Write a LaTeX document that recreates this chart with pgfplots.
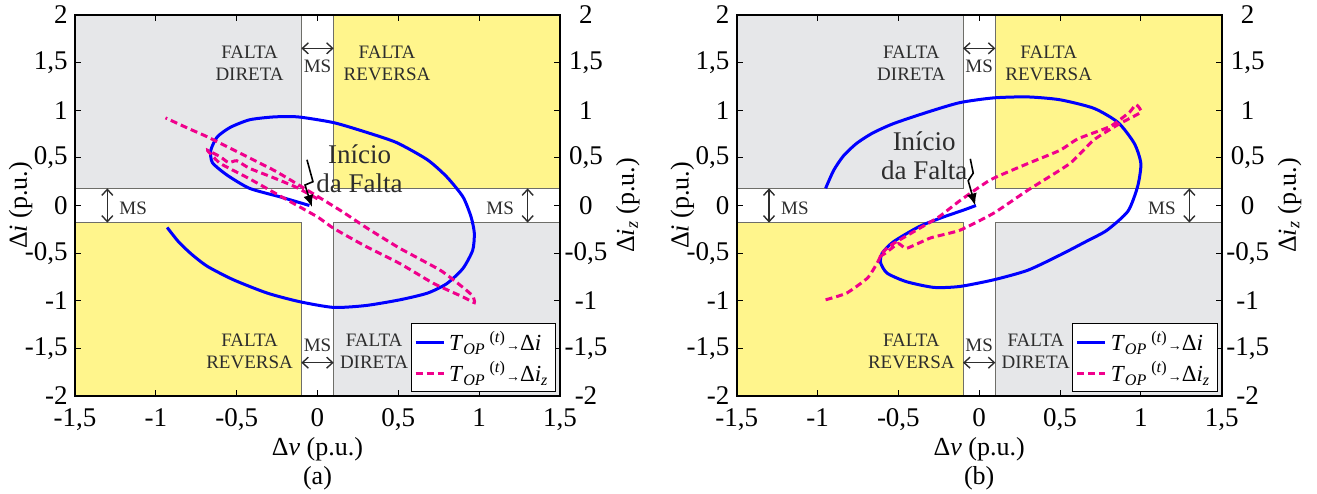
\documentclass[border=0pt]{standalone}
\usepackage{fontspec}
\setmainfont{Liberation Serif}
\usepackage{pgfplots}
\pgfplotsset{compat=1.18}
\usetikzlibrary{arrows.meta}

\definecolor{regGray}{RGB}{230,231,233}
\definecolor{regYel}{RGB}{255,245,140}
\definecolor{edgeGray}{RGB}{110,110,105}
\definecolor{curBlue}{RGB}{0,0,255}
\definecolor{curPink}{RGB}{240,0,140}
\definecolor{txtGray}{RGB}{45,45,45}

\tikzset{
  lbl/.style={font=\fontsize{9.5}{11}\selectfont, text=txtGray, align=center, inner sep=0pt},
  msarrow/.style={{Straight Barb[length=3pt,width=5.5pt]}-{Straight Barb[length=3pt,width=5.5pt]}, line width=0.7pt, draw=txtGray},
  blueline/.style={curBlue, line width=1.5pt, smooth, tension=0.4},
  pinkline/.style={curPink, line width=1.5pt, dash pattern=on 3.5pt off 2pt, smooth, tension=0.3},
}

\pgfplotsset{
  panel/.style={
    scale only axis, width=242.5pt, height=190.5pt,
    xmin=-1.5, xmax=1.5, ymin=-2, ymax=2,
    /pgf/number format/.cd, use comma, 1000 sep={}, assume math mode=true, /pgfplots/.cd,
    tick label style={font=\fontsize{13.5}{15}\selectfont, inner sep=0.5pt},
  },
  mainpanel/.style={
    panel, axis on top,
    xtick={-1.5,-1,-0.5,0,0.5,1,1.5},
    ytick={-2,-1.5,-1,-0.5,0,0.5,1,1.5,2},
    xtick pos=both, ytick pos=both,
    xticklabel pos=lower, yticklabel pos=left,
    tick align=inside, major tick length=3pt,
    tick style={black, line width=0.5pt},
    axis line style={black, line width=0.9pt},
    xticklabel style={yshift=-5.5pt},
    yticklabel style={xshift=-3pt},
    xlabel={Δ\textit{v} (p.u.)\\[0pt]#1},
    xlabel style={at={(axis description cs:0.5,-0.09)}, anchor=north, align=center, font=\fontsize{13}{14.5}\selectfont},
    ylabel={Δ\textit{i} (p.u.)},
    ylabel style={at={(axis description cs:-0.112,0.5)}, anchor=center, font=\fontsize{13}{14}\selectfont},
    legend style={at={(0.992,0.01)}, anchor=south east, draw=black, fill=white, line width=0.6pt,
      font=\fontsize{11.5}{13}\selectfont, inner sep=1.5pt, row sep=0pt,
      nodes={inner xsep=2pt}},
    legend image code/.code={\draw[##1] (0pt,0pt) -- (14pt,0pt);},
    legend cell align=left,
  },
  rightpanel/.style={
    panel, axis line style={draw=none}, tick style={draw=none},
    xtick=\empty, ytick={-2,-1.5,-1,-0.5,0,0.5,1,1.5,2},
    yticklabel pos=right,
    yticklabel style={anchor=center, xshift=13pt},
    ylabel={Δ\textit{i}\textsubscript{\textit{z}} (p.u.)},
    ylabel style={at={(axis description cs:1.14,0.5)}, anchor=center, font=\fontsize{13}{14}\selectfont},
  },
}

\newcommand{\Regions}{%
  \addplot[forget plot, fill=regGray, draw=edgeGray, line width=0.5pt] coordinates {(-1.5,0.18) (-0.1,0.18) (-0.1,2) (-1.5,2) (-1.5,0.18)};
  \addplot[forget plot, fill=regYel, draw=edgeGray, line width=0.5pt] coordinates {(0.1,0.18) (1.5,0.18) (1.5,2) (0.1,2) (0.1,0.18)};
  \addplot[forget plot, fill=regYel, draw=edgeGray, line width=0.5pt] coordinates {(-1.5,-2) (-0.1,-2) (-0.1,-0.18) (-1.5,-0.18) (-1.5,-2)};
  \addplot[forget plot, fill=regGray, draw=edgeGray, line width=0.5pt] coordinates {(0.1,-2) (1.5,-2) (1.5,-0.18) (0.1,-0.18) (0.1,-2)};
  \node[lbl] at (axis cs:-0.42,1.49) {FALTA\\DIRETA};
  \node[lbl] at (axis cs:0.43,1.49) {FALTA\\REVERSA};
  \node[lbl] at (axis cs:-0.42,-1.53) {FALTA\\REVERSA};
  \node[lbl] at (axis cs:0.35,-1.53) {FALTA\\DIRETA};
  \draw[msarrow] (axis cs:-0.1,1.65) -- (axis cs:0.1,1.65);
  \node[lbl] at (axis cs:0,1.46) {MS};
  \draw[msarrow] (axis cs:-0.1,-1.65) -- (axis cs:0.1,-1.65);
  \node[lbl] at (axis cs:0,-1.47) {MS};
  \draw[msarrow] (axis cs:-1.30,-0.18) -- (axis cs:-1.30,0.18);
  \node[lbl] at (axis cs:-1.14,-0.03) {MS};
  \draw[msarrow] (axis cs:1.30,-0.18) -- (axis cs:1.30,0.18);
  \node[lbl] at (axis cs:1.13,-0.03) {MS};
}

\newcommand{\LegA}{\textit{T}\textsubscript{\textit{OP}}\,\textsuperscript{(\textit{t})}{\scriptsize→}Δ\textit{i}}
\newcommand{\LegB}{\textit{T}\textsubscript{\textit{OP}}\,\textsuperscript{(\textit{t})}{\scriptsize→}Δ\textit{i}\textsubscript{\textit{z}}}

\begin{document}
\begin{tikzpicture}
\useasboundingbox (-37.5pt,-48.5pt) rectangle (621pt,198pt);

% ---------------- Panel (a) ----------------
\begin{axis}[mainpanel={(a)}, at={(0pt,0pt)}, anchor=south west]
\Regions
\addplot[blueline] coordinates {
(-0.05,0.00) (-0.23,0.09) (-0.42,0.18) (-0.56,0.32) (-0.65,0.45) (-0.66,0.58)
(-0.62,0.72) (-0.54,0.82) (-0.42,0.90) (-0.27,0.93) (-0.12,0.93) (0.10,0.87)
(0.30,0.77) (0.49,0.66) (0.68,0.48) (0.80,0.30) (0.90,0.09) (0.95,-0.12)
(0.97,-0.29) (0.96,-0.47) (0.90,-0.66) (0.80,-0.82) (0.68,-0.92) (0.51,-0.99)
(0.30,-1.05) (0.10,-1.07) (-0.11,-1.01) (-0.31,-0.92) (-0.52,-0.78) (-0.68,-0.64)
(-0.78,-0.51) (-0.86,-0.38) (-0.93,-0.23)
};
\addlegendentry{\LegA}
\addplot[pinkline] coordinates {
(0.00,0.07) (-0.13,0.19) (-0.27,0.29) (-0.42,0.39) (-0.50,0.47) (-0.55,0.45)
(-0.60,0.51) (-0.68,0.58) (-0.66,0.54) (-0.60,0.44) (-0.42,0.28) (-0.21,0.08)
(0.00,-0.12) (0.10,-0.24) (0.30,-0.43) (0.51,-0.61) (0.72,-0.82) (0.90,-0.96)
(0.97,-1.02) (0.96,-0.95) (0.90,-0.86) (0.76,-0.68) (0.51,-0.45) (0.30,-0.23)
(0.14,-0.05) (-0.13,0.23) (-0.27,0.37) (-0.48,0.55) (-0.68,0.72) (-0.80,0.81)
(-0.94,0.92)
};
\addlegendentry{\LegB}
\node[font=\fontsize{13.5}{14.5}\selectfont, text=txtGray, align=center, inner sep=0pt] at (axis cs:0.26,0.39) {Início\\da Falta};
\draw[line width=0.8pt, -{Latex[length=6pt,width=5pt]}] (axis cs:-0.065,0.48) -- (axis cs:-0.028,0.25) -- (axis cs:-0.077,0.215) -- (axis cs:-0.034,-0.016);
\end{axis}
\begin{axis}[rightpanel, at={(0pt,0pt)}, anchor=south west]
\end{axis}

% ---------------- Panel (b) ----------------
\begin{axis}[mainpanel={(b)}, at={(330.85pt,0pt)}, anchor=south west]
\Regions
\addplot[blueline] coordinates {
(-0.02,0.00) (-0.10,-0.05) (-0.22,-0.12) (-0.37,-0.22) (-0.53,-0.38) (-0.60,-0.50)
(-0.61,-0.60) (-0.57,-0.71) (-0.45,-0.80) (-0.28,-0.86) (-0.12,-0.85) (0.09,-0.78)
(0.30,-0.68) (0.50,-0.52) (0.67,-0.37) (0.79,-0.26) (0.92,-0.06) (0.98,0.20)
(1.00,0.44) (0.96,0.65) (0.86,0.87) (0.71,1.02) (0.50,1.11) (0.30,1.14)
(0.09,1.13) (-0.12,1.08) (-0.32,0.98) (-0.53,0.86) (-0.66,0.76) (-0.76,0.65)
(-0.84,0.52) (-0.90,0.37) (-0.95,0.18)
};
\addlegendentry{\LegA}
\addplot[pinkline] coordinates {
(-0.95,-0.99) (-0.82,-0.92) (-0.69,-0.76) (-0.63,-0.60) (-0.60,-0.50) (-0.55,-0.42)
(-0.40,-0.27) (-0.25,-0.12) (-0.12,0.05) (0.07,0.27) (0.30,0.44) (0.50,0.58)
(0.61,0.70) (0.81,0.83) (0.93,0.98) (0.97,1.06) (1.00,0.98) (0.87,0.86)
(0.71,0.69) (0.56,0.44) (0.30,0.16) (0.09,-0.08) (-0.12,-0.26) (-0.30,-0.34)
(-0.45,-0.45) (-0.50,-0.40) (-0.58,-0.50) (-0.63,-0.55)
};
\addlegendentry{\LegB}
\node[font=\fontsize{13.5}{14.5}\selectfont, text=txtGray, align=center, inner sep=0pt] at (axis cs:-0.34,0.52) {Início\\da Falta};
\draw[line width=0.8pt, -{Latex[length=6pt,width=5pt]}] (axis cs:-0.055,0.49) -- (axis cs:-0.037,0.34) -- (axis cs:-0.068,0.26) -- (axis cs:-0.025,0.0);
\end{axis}
\begin{axis}[rightpanel, at={(330.85pt,0pt)}, anchor=south west]
\end{axis}
\end{tikzpicture}
\end{document}
